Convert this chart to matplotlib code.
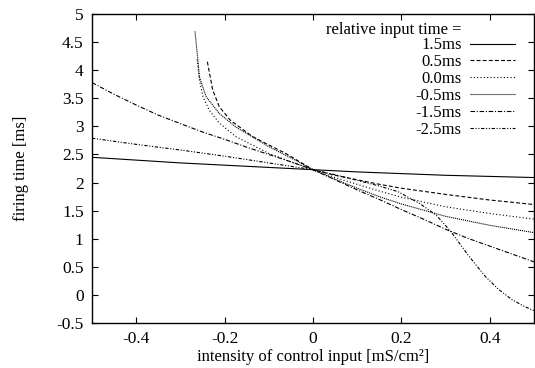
import matplotlib
matplotlib.use("Agg")
import matplotlib.pyplot as plt

plt.rcParams['font.family'] = ['Liberation Serif', 'DejaVu Serif']

# --- data ---
labels = ["1.5ms", "0.5ms", "0.0ms", "-0.5ms", "-1.5ms", "-2.5ms"]

x_15 = [-0.5, -0.4, -0.3, -0.2, -0.1, 0.0, 0.1, 0.2, 0.3, 0.4, 0.5]
y_15 = [2.45, 2.40, 2.35, 2.31, 2.27, 2.23, 2.19, 2.16, 2.13, 2.11, 2.09]

x_05 = [-0.239, -0.227, -0.212, -0.187, -0.137, -0.1, -0.062, 0.0, 0.05, 0.1, 0.15, 0.2, 0.3, 0.4, 0.5]
y_05 = [4.15, 3.65, 3.35, 3.11, 2.82, 2.67, 2.52, 2.23, 2.13, 2.05, 1.97, 1.90, 1.79, 1.69, 1.61]

x_00 = [-0.262, -0.257, -0.249, -0.235, -0.212, -0.175, -0.1, -0.05, 0.0, 0.05, 0.1, 0.15, 0.2, 0.3, 0.4, 0.5]
y_00 = [4.19, 3.83, 3.53, 3.29, 3.06, 2.82, 2.52, 2.37, 2.23, 2.09, 1.97, 1.85, 1.74, 1.57, 1.45, 1.35]

x_m05 = [-0.267, -0.262, -0.257, -0.242, -0.212, -0.175, -0.1, -0.05, 0.0, 0.05, 0.1, 0.15, 0.2, 0.3, 0.4, 0.5]
y_m05 = [4.69, 4.30, 3.88, 3.53, 3.23, 2.99, 2.64, 2.44, 2.23, 2.06, 1.90, 1.75, 1.62, 1.40, 1.24, 1.11]

x_m15 = [-0.5, -0.45, -0.4, -0.35, -0.3, -0.25, -0.2, -0.15, -0.1, -0.05, 0.0,
         0.05, 0.1, 0.15, 0.2, 0.25, 0.3, 0.35, 0.4, 0.45, 0.5]
y_m15 = [3.78, 3.57, 3.38, 3.20, 3.05, 2.90, 2.77, 2.63, 2.50, 2.37, 2.23,
         2.05, 1.87, 1.70, 1.52, 1.35, 1.17, 1.01, 0.87, 0.73, 0.59]

x_m25 = [-0.5, -0.4, -0.3, -0.2, -0.1, 0.0, 0.05, 0.1, 0.15, 0.192, 0.241, 0.279,
         0.312, 0.35, 0.39, 0.42, 0.45, 0.475, 0.5]
y_m25 = [2.79, 2.68, 2.58, 2.47, 2.35, 2.23, 2.14, 2.04, 1.94, 1.84, 1.63, 1.42,
         1.13, 0.72, 0.33, 0.10, -0.08, -0.19, -0.28]

xticks = [-0.4, -0.2, 0, 0.2, 0.4]
xticklabels = ["-0.4", "-0.2", "0", "0.2", "0.4"]
yticks = [-0.5, 0, 0.5, 1, 1.5, 2, 2.5, 3, 3.5, 4, 4.5, 5]
yticklabels = ["-0.5", "0", "0.5", "1", "1.5", "2", "2.5", "3", "3.5", "4", "4.5", "5"]

series = [(x_15, y_15), (x_05, y_05), (x_00, y_00), (x_m05, y_m05), (x_m15, y_m15), (x_m25, y_m25)]
styles = ['-', (0, (3.5, 2)), (0, (1, 2)), (0, (1, 0.8)), (0, (4, 1.6, 1, 1.6)), (0, (3, 1.5, 1, 1.5, 1, 1.5))]

fig = plt.figure(figsize=(5.35, 3.68), dpi=100)
ax = fig.add_axes([0.172, 0.122, 0.826, 0.840])

for (xs, ys), ls, lab in zip(series, styles, labels):
    ax.plot(xs, ys, color='black', lw=0.8, linestyle=ls, label=lab)

ax.set_xlim(-0.5, 0.5)
ax.set_ylim(-0.5, 5)
ax.set_xticks(xticks)
ax.set_xticklabels(xticklabels)
ax.set_yticks(yticks)
ax.set_yticklabels(yticklabels)
ax.tick_params(direction='in', top=True, right=True, length=4, width=0.8, labelsize=12.5, pad=6)
for sp in ax.spines.values():
    sp.set_linewidth(1.0)

ax.set_xlabel("intensity of control input [mS/cm²]", fontsize=12, labelpad=1)
ax.set_ylabel("firing time [ms]", fontsize=12, labelpad=20)

leg = ax.legend(loc='upper right', bbox_to_anchor=(0.957, 0.924), frameon=False, markerfirst=False,
                fontsize=12, handlelength=2.7, handletextpad=0.5, labelspacing=0.05,
                borderpad=0.0, borderaxespad=0.0)
ax.text(0.837, 0.975, "relative input time =", transform=ax.transAxes, ha='right', va='top', fontsize=12)

fig.savefig("out.png", dpi=100)
